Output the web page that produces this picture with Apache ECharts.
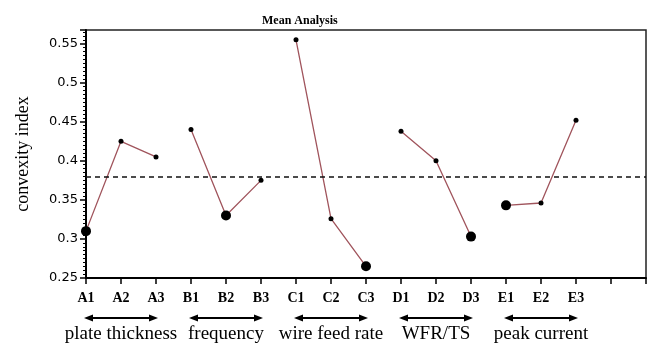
<!DOCTYPE html>
<html>
<head>
<meta charset="utf-8">
<script src="https://cdn.jsdelivr.net/npm/echarts@6/dist/echarts.min.js"></script>
<style>html,body{margin:0;padding:0;background:#fff}#c{width:649px;height:345px}</style>
</head>
<body>
<div id="c"></div>
<script>
var categories = ['A1','A2','A3','B1','B2','B3','C1','C2','C3','D1','D2','D3','E1','E2','E3'];
var values = [0.31, 0.425, 0.405, 0.44, 0.33, 0.375, 0.555, 0.326, 0.265, 0.438, 0.40, 0.303, 0.343, 0.346, 0.452];
var groups = ['plate thickness','frequency','wire feed rate','WFR/TS','peak current'];
var meanValue = 0.38;
var titleText = 'Mean Analysis';
var yName = 'convexity index';

var chart = echarts.init(document.getElementById('c'));
var series = groups.map(function (g, gi) {
  var pts = [];
  var vals = values.slice(gi * 3, gi * 3 + 3);
  var mn = Math.min.apply(null, vals);
  for (var i = 0; i < 3; i++) {
    var idx = gi * 3 + i;
    pts.push({value: [idx, values[idx]], symbolSize: values[idx] === mn ? 10 : 5});
  }
  var s = {
    type: 'line', data: pts, symbol: 'circle',
    itemStyle: {color: '#000'},
    lineStyle: {color: '#a0545c', width: 1.3},
    silent: true, animation: false, z: 3
  };
  if (gi === 0) {
    s.markLine = {
      silent: true, symbol: 'none', animation: false,
      label: {show: false},
      lineStyle: {color: '#111', type: [5, 4], width: 1.5},
      data: [{yAxis: meanValue}]
    };
  }
  return s;
});

var option = {
  animation: false,
  title: {text: titleText, left: 257, top: 10,
    textStyle: {fontFamily: 'Liberation Serif', fontWeight: 'bold', fontSize: 12, color: '#000'}},
  grid: {left: 86, right: 2, top: 30, bottom: 67, show: true, borderColor: '#222', borderWidth: 1.5},
  xAxis: {
    type: 'value', min: 0, max: 16, interval: 1,
    axisLine: {lineStyle: {color: '#000', width: 2}},
    axisTick: {length: 6, lineStyle: {color: '#000', width: 1.5}},
    splitLine: {show: false},
    axisLabel: {margin: 13, color: '#000', fontFamily: 'Liberation Serif', fontWeight: 'bold', fontSize: 14,
      formatter: function (v) { return categories[v] || ''; }}
  },
  yAxis: {
    type: 'value', min: 0.25, max: 0.5675, interval: 0.05,
    name: yName, nameLocation: 'middle', nameGap: 54,
    nameTextStyle: {fontFamily: 'Liberation Serif', fontSize: 18, color: '#000'},
    axisLine: {show: true, lineStyle: {color: '#000', width: 2}},
    axisTick: {length: 6, lineStyle: {color: '#000', width: 1.5}},
    minorTick: {show: true, splitNumber: 10, length: 3, lineStyle: {color: '#000', width: 1}},
    splitLine: {show: false},
    axisLabel: {margin: 8, color: '#000', fontFamily: 'DejaVu Sans', fontSize: 13, showMaxLabel: false,
      formatter: function (v) { return String(parseFloat(v.toFixed(3))); }}
  },
  series: series
};
chart.setOption(option);

var gfx = [];
var arrowY = 318, labelY = 334, head = 7, hw = 3.5;
groups.forEach(function (g, gi) {
  var x1 = chart.convertToPixel({gridIndex: 0}, [gi * 3, 0.25])[0];
  var x2 = chart.convertToPixel({gridIndex: 0}, [gi * 3 + 2, 0.25])[0];
  var xm = chart.convertToPixel({gridIndex: 0}, [gi * 3 + 1, 0.25])[0];
  gfx.push({type: 'line', shape: {x1: x1 + 4, y1: arrowY, x2: x2 - 4, y2: arrowY}, style: {stroke: '#000', lineWidth: 2}});
  gfx.push({type: 'polygon', shape: {points: [[x1 - 2, arrowY], [x1 + head, arrowY - hw], [x1 + head, arrowY + hw]]}, style: {fill: '#000'}});
  gfx.push({type: 'polygon', shape: {points: [[x2 + 2, arrowY], [x2 - head, arrowY - hw], [x2 - head, arrowY + hw]]}, style: {fill: '#000'}});
  gfx.push({type: 'text', x: xm, y: labelY, style: {text: g, fill: '#000', font: '19px "Liberation Serif"', textAlign: 'center', textVerticalAlign: 'middle'}});
});
chart.setOption({graphic: gfx});
</script>
</body>
</html>
